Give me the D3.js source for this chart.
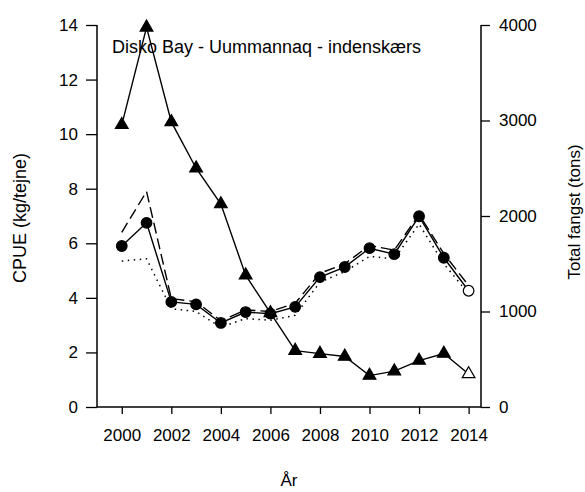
<!DOCTYPE html>
<html lang="da">
<head>
  <meta charset="UTF-8" />
  <title>Disko Bay - Uummannaq - indenskærs</title>
  <script src="https://d3js.org/d3.v7.min.js"></script>
  <style>
    body {
      margin: 0;
      background: #fff;
      overflow: hidden;
    }
    svg {
      font-family: Arial, "Liberation Sans", sans-serif;
    }
  </style>
</head>
<body>

<svg id="chart" width="585" height="492"></svg>

<script>
// data
const years = [2000, 2001, 2002, 2003, 2004, 2005, 2006, 2007, 2008, 2009, 2010, 2011, 2012, 2013, 2014];
const cpue = [5.9, 6.75, 3.85, 3.76, 3.08, 3.48, 3.42, 3.67, 4.76, 5.13, 5.82, 5.6, 6.99, 5.47, 4.26];
const cpueDashed = [6.4, 7.9, 3.97, 3.86, 3.16, 3.56, 3.5, 3.8, 4.9, 5.25, 5.92, 5.75, 7.05, 5.62, 4.45];
const cpueDotted = [5.35, 5.43, 3.6, 3.5, 2.92, 3.24, 3.18, 3.36, 4.58, 4.96, 5.52, 5.43, 6.7, 5.25, 4.15];
const totalCatch = [2955, 3975, 2985, 2500, 2125, 1380, 985, 590, 559, 529, 329, 375, 486, 560, 345];

const cpueTicks = [0, 2, 4, 6, 8, 10, 12, 14];
const catchTicks = [0, 1000, 2000, 3000, 4000];
const yearTicks = [2000, 2002, 2004, 2006, 2008, 2010, 2012, 2014];

const svg = d3.select("#chart");
const plotLeft = 97, plotRight = 481, plotTop = 25, plotBottom = 407;

const x = d3.scaleLinear().domain([1999, 2014.5]).range([plotLeft, plotRight]);
const yL = d3.scaleLinear().domain([0, 14]).range([plotBottom, plotTop]);
const yR = d3.scaleLinear().domain([0, 4000]).range([plotBottom, plotTop]);

const fontSize = "17px";

// axes
const xAxis = svg.append("g")
  .attr("transform", `translate(0,${plotBottom})`)
  .call(d3.axisBottom(x).tickValues(yearTicks).tickFormat(d3.format("d")).tickSize(7).tickPadding(15));

const leftAxis = svg.append("g")
  .attr("transform", `translate(${plotLeft},0)`)
  .call(d3.axisLeft(yL).tickValues(cpueTicks).tickSize(11).tickPadding(8));

const rightAxis = svg.append("g")
  .attr("transform", `translate(${plotRight},0)`)
  .call(d3.axisRight(yR).tickValues(catchTicks).tickFormat(d3.format("d")).tickSize(9).tickPadding(9));

[xAxis, leftAxis, rightAxis].forEach(g => {
  g.select(".domain").remove();
  g.selectAll("line").attr("stroke", "#000").attr("stroke-width", 1.3);
  g.selectAll("text").attr("fill", "#000").style("font-size", fontSize);
});

// axis lines
svg.append("line").attr("x1", plotLeft).attr("x2", plotRight).attr("y1", plotBottom).attr("y2", plotBottom)
  .attr("stroke", "#000").attr("stroke-width", 1.5);
svg.append("line").attr("x1", plotLeft).attr("x2", plotLeft).attr("y1", plotTop).attr("y2", plotBottom)
  .attr("stroke", "#000").attr("stroke-width", 1.5);
svg.append("line").attr("x1", plotRight).attr("x2", plotRight).attr("y1", plotTop).attr("y2", plotBottom)
  .attr("stroke", "#000").attr("stroke-width", 1.5);

// axis titles
svg.append("text")
  .attr("transform", `translate(26,218) rotate(-90)`)
  .attr("text-anchor", "middle")
  .style("font-size", "18px")
  .text("CPUE (kg/tejne)");

svg.append("text")
  .attr("transform", `translate(580,212) rotate(-90)`)
  .attr("text-anchor", "middle")
  .style("font-size", fontSize)
  .text("Total fangst (tons)");

svg.append("text")
  .attr("x", (plotLeft + plotRight) / 2)
  .attr("y", 486)
  .attr("text-anchor", "middle")
  .style("font-size", fontSize)
  .text("År");

svg.append("text")
  .attr("x", 112)
  .attr("y", 53)
  .style("font-size", "18px")
  .text("Disko Bay - Uummannaq - indenskærs");

// lines
const lineL = vals => d3.line().x((d, i) => x(years[i])).y(d => yL(d))(vals);
const lineR = vals => d3.line().x((d, i) => x(years[i])).y(d => yR(d))(vals);

svg.append("path").attr("d", lineL(cpueDotted))
  .attr("fill", "none").attr("stroke", "#000").attr("stroke-width", 1.5)
  .attr("stroke-dasharray", "1.5,4.5");

svg.append("path").attr("d", lineL(cpueDashed))
  .attr("fill", "none").attr("stroke", "#000").attr("stroke-width", 1.4)
  .attr("stroke-dasharray", "11,5");

svg.append("path").attr("d", lineR(totalCatch))
  .attr("fill", "none").attr("stroke", "#000").attr("stroke-width", 1.4);

svg.append("path").attr("d", lineL(cpue))
  .attr("fill", "none").attr("stroke", "#000").attr("stroke-width", 1.4);

// markers
const last = years.length - 1;
const tri = d3.symbol(d3.symbolTriangle, 70);

svg.selectAll(".tri")
  .data(totalCatch)
  .enter()
  .append("path")
  .attr("class", "tri")
  .attr("d", tri)
  .attr("transform", (d, i) => `translate(${x(years[i])},${yR(d)})`)
  .attr("fill", (d, i) => i === last ? "#fff" : "#000")
  .attr("stroke", "#000")
  .attr("stroke-width", 1.2);

svg.selectAll(".dot")
  .data(cpue)
  .enter()
  .append("circle")
  .attr("class", "dot")
  .attr("cx", (d, i) => x(years[i]))
  .attr("cy", d => yL(d))
  .attr("r", 5.3)
  .attr("fill", (d, i) => i === last ? "#fff" : "#000")
  .attr("stroke", "#000")
  .attr("stroke-width", 1.2);
</script>

</body>
</html>
